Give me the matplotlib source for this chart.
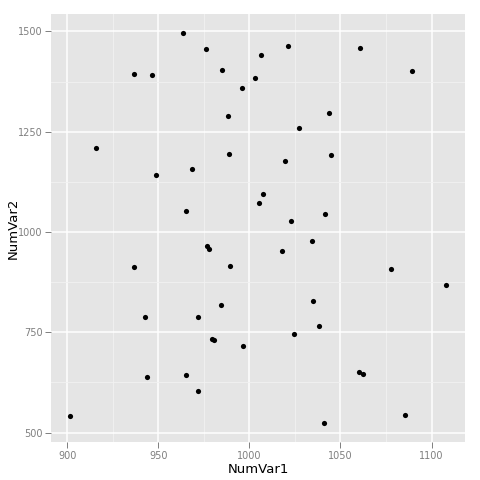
import matplotlib
matplotlib.use('Agg')
import matplotlib.pyplot as plt
import numpy as np

# data
num_var1 = [936.6, 946.5, 915.6, 948.6, 936.5, 942.9, 943.6, 901.5,
            963.4, 976.2, 985.2, 995.8, 1006.3, 1003.3, 1021.1, 988.3,
            1027.5, 988.8, 1019.8, 968.5, 1007.5, 1005.3, 965.4, 1022.9,
            976.6, 977.7, 989.4, 1017.8, 1034.3, 984.5, 971.8, 1034.8,
            979.5, 980.8, 996.7, 1024.6, 1038.5, 965.1, 972.0,
            1061.0, 1089.4, 1043.8, 1044.7, 1041.8,
            1077.9, 1108.2, 1060.3, 1062.6, 1085.7, 1040.9]
num_var2 = [1392.8, 1390.4, 1209.4, 1141.2, 913.7, 789.1, 638.8, 541.6,
            1495.0, 1455.1, 1402.8, 1358.0, 1441.2, 1383.9, 1463.6, 1289.2,
            1259.3, 1193.5, 1177.8, 1156.1, 1094.8, 1073.1, 1051.5, 1028.3,
            966.0, 956.8, 914.4, 953.5, 977.7, 818.2, 787.3, 828.2,
            733.5, 731.7, 716.8, 745.9, 765.9, 642.8, 602.9,
            1457.6, 1400.3, 1295.7, 1191.0, 1044.0,
            908.7, 868.8, 652.0, 646.3, 544.9, 524.2]

x_ticks = [900, 950, 1000, 1050, 1100]
y_ticks = [500, 750, 1000, 1250, 1500]

fig = plt.figure(figsize=(4.8, 4.8), dpi=100)
ax = fig.add_axes([0.10625, 0.0785, 0.8631, 0.8923])
ax.set_facecolor('#E5E5E5')

ax.scatter(num_var1, num_var2, s=14, color='black', linewidths=0, zorder=3)

x = np.array(num_var1)
y = np.array(num_var2)
xr = x.max() - x.min()
yr = y.max() - y.min()
ax.set_xlim(x.min() - 0.05 * xr, x.max() + 0.05 * xr)
ax.set_ylim(y.min() - 0.05 * yr, y.max() + 0.05 * yr)

ax.set_xticks(x_ticks)
ax.set_yticks(y_ticks)
ax.set_xticks([925, 975, 1025, 1075], minor=True)
ax.set_yticks([625, 875, 1125, 1375], minor=True)
ax.grid(True, which='major', color='white', linewidth=1.1, zorder=1)
ax.grid(True, which='minor', color='#F2F2F2', linewidth=0.6, zorder=1)
ax.set_axisbelow(True)

for s in ax.spines.values():
    s.set_visible(False)
ax.tick_params(which='major', length=4, width=0.7, color='#7F7F7F',
               labelcolor='#7F7F7F', labelsize=7, pad=2)
ax.tick_params(which='minor', length=0)

ax.set_xlabel('NumVar1', fontsize=9.5, labelpad=2)
ax.set_ylabel('NumVar2', fontsize=9.5)
ax.yaxis.set_label_coords(-0.076, 0.5)

fig.savefig('out.png', dpi=100)
